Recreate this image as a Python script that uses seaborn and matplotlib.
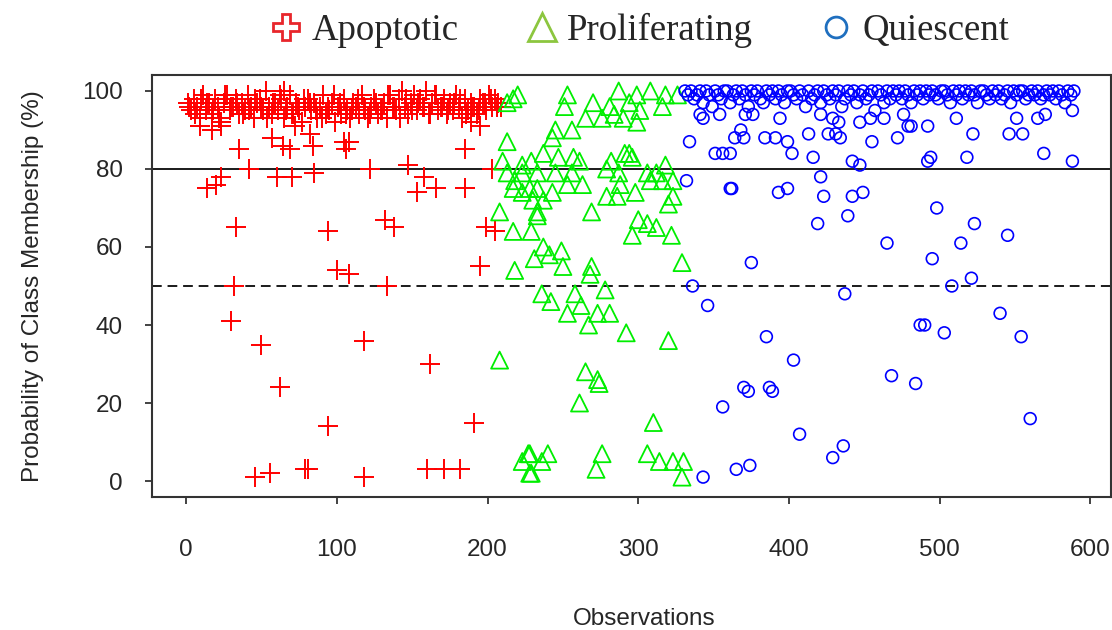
import matplotlib
matplotlib.use("Agg")
import matplotlib.pyplot as plt
from matplotlib.markers import MarkerStyle
from matplotlib.lines import Line2D
import seaborn as sns
import pandas as pd

# ---------------- data ----------------
class_names = ["Apoptotic", "Proliferating", "Quiescent"]
x_ticks = [0, 100, 200, 300, 400, 500, 600]
y_ticks = [0, 20, 40, 60, 80, 100]
solid_ref = 80
dashed_ref = 50

apo_band_x = [1,3,5,7,9,11,13,15,17,19,21,23,25,27,29,31,33,35,37,39,
              41,43,45,47,49,51,53,55,57,59,61,63,65,67,69,71,73,75,77,79,
              81,83,85,87,89,91,93,95,97,99,101,103,105,107,109,111,113,115,117,119,
              121,123,125,127,129,131,133,135,137,139,141,143,145,147,149,151,153,155,157,159,
              161,163,165,167,169,171,173,175,177,179,181,183,185,187,189,191,193,195,197,199,
              201,203,205,207,209]
apo_band_y = [97,95,98,96,93,99,95,97,94,98,
              96,92,97,99,95,96,98,94,97,95,
              99,96,93,97,98,95,100,96,94,97,
              95,98,93,96,99,94,97,95,92,96,
              98,95,97,93,96,99,94,95,97,92,
              96,94,98,95,93,97,96,94,99,95,
              93,96,98,94,95,97,93,99,96,95,
              98,100,96,94,97,99,95,98,96,100,
              94,97,99,95,96,98,94,97,95,99,
              96,93,98,95,97,96,94,98,97,95,
              99,96,98,97,96]
apo_band2_x = [2,6,10,14,18,22,26,30,34,38,42,46,50,54,58,62,66,70,74,78,
               82,86,90,94,98,102,106,110,114,118,122,126,130,134,138,142,146,150,154,158,
               162,166,170,174,178,182,186,190,194,198,202,206]
apo_band2_y = [96,94,98,97,95,93,99,96,97,94,
               95,98,96,93,97,99,95,94,96,98,
               97,95,93,96,99,97,94,95,98,96,
               94,97,95,99,96,93,98,95,97,96,
               94,99,96,95,97,98,94,96,95,97,
               98,96]
apo_out_x = [14,20,23,33,94,100,108,32,30,50,62,94,46,56,79,81,118,162,191,118,
             160,171,182,133,132,138,199,205,195,108,106,122,147,158,166,153,185,185,203,195,
             35,42,57,64,69,60,70,85,84,82,105,9,17,23,72,65,189]
apo_out_y = [75,76,78,65,64,54,53,50,41,35,24,14,1,2,3,3,36,30,15,1,
             3,3,3,50,67,65,65,64,55,87,85,80,81,78,75,74,75,85,80,91,
             85,80,88,86,85,78,78,79,86,89,87,91,90,91,91,100,92]

pro_x = [213,217,220,213,210,223,229,213,218,223,217,223,228,230,208,217,229,233,231,218,208,227,223,228,
         253,251,270,287,294,299,308,318,326,316,301,284,281,276,265,290,299,245,256,243,237,247,257,261,
         282,291,294,296,318,233,245,256,279,287,306,312,316,308,323,233,243,253,263,288,279,286,298,237,
         320,269,323,233,300,306,312,296,322,237,249,241,250,329,269,268,
         236,242,258,253,262,278,273,281,267,292,320,265,273,274,261,310,228,240,236,229,276,272,306,314,
         323,330,329]
pro_y = [97,98,99,87,82,81,82,79,77,79,75,74,75,72,69,64,64,69,57,54,31,7,5,2,
         99,96,97,100,97,99,100,99,99,96,95,94,96,93,93,93,92,90,90,88,84,83,83,82,
         82,84,84,83,81,79,79,79,80,79,79,79,77,77,77,75,74,76,76,76,73,73,74,72,
         71,69,73,68,67,66,65,63,63,60,59,58,55,56,55,53,
         48,46,48,43,45,49,43,43,40,38,36,28,26,25,20,15,7,7,5,2,7,3,7,5,
         5,5,1]

qui_band_x = [331,333,335,337,339,341,343,345,347,349,
              351,353,355,357,359,361,363,365,367,369,
              371,373,375,377,379,381,383,385,387,389,
              391,393,395,397,399,401,403,405,407,409,
              411,413,415,417,419,421,423,425,427,429,
              431,433,435,437,439,441,443,445,447,449,
              451,453,455,457,459,461,463,465,467,469,
              471,473,475,477,479,481,483,485,487,489,
              491,493,495,497,499,501,503,505,507,509,
              511,513,515,517,519,521,523,525,527,529,
              531,533,535,537,539,541,543,545,547,549,
              551,553,555,557,559,561,563,565,567,569,
              571,573,575,577,579,581,583,585,587,589]
qui_band_y = [100,99,100,98,99,100,97,100,99,96,
              100,99,98,100,100,97,99,100,98,100,
              99,96,100,99,100,98,97,100,99,100,
              98,100,99,97,100,100,99,98,100,99,
              96,100,98,99,100,97,100,99,98,100,
              99,100,96,98,100,99,100,97,99,100,
              98,99,100,95,100,99,97,100,98,100,
              99,100,98,100,99,97,100,99,100,98,
              100,99,100,99,98,100,100,99,97,100,
              99,100,98,100,99,100,99,97,100,100,
              99,98,100,99,100,98,99,100,97,100,
              99,100,100,98,99,100,99,100,98,99,
              100,99,100,98,100,99,97,100,99,100]
qui_out_x = [334,332,351,356,361,336,346,356,343,
             361,364,368,370,362,384,391,399,402,413,416,393,399,375,421,423,419,439,442,449,442,
             447,465,426,431,434,429,433,421,455,447,454,463,472,479,476,394,371,376,341,343,354,
             437,385,403,370,373,387,389,407,468,484,365,374,429,436,487,
             492,481,522,494,492,518,546,555,551,570,565,569,588,588,511,498,523,514,545,495,
             521,508,490,503,540,554,560]
qui_out_y = [87,77,84,84,75,50,45,19,1,
             84,88,90,88,75,88,88,87,84,89,83,74,75,56,78,73,66,68,73,74,82,
             81,61,89,89,88,93,92,94,87,92,93,93,88,91,94,93,94,94,94,93,94,
             48,37,31,24,23,24,23,12,27,25,3,4,6,9,40,
             91,91,89,83,82,83,89,89,93,94,93,84,95,82,93,70,66,61,63,57,
             52,50,40,38,43,37,16]

apo = pd.DataFrame({"obs": apo_band_x + apo_band2_x + apo_out_x,
                    "prob": apo_band_y + apo_band2_y + apo_out_y})
pro = pd.DataFrame({"obs": pro_x, "prob": pro_y})
qui = pd.DataFrame({"obs": qui_band_x + qui_out_x, "prob": qui_band_y + qui_out_y})

# ---------------- style ----------------
sns.set_style("ticks")
plt.rcParams["font.family"] = ["Liberation Sans", "DejaVu Sans"]

fig = plt.figure(figsize=(11.12, 6.30), dpi=100)
ax = fig.add_axes([152/1112, 133/630, 959/1112, 422/630])

sns.scatterplot(data=apo, x="obs", y="prob", marker="+", s=200,
                color="#FF0000", linewidth=1.4, ax=ax, zorder=3)
sns.scatterplot(data=pro, x="obs", y="prob", marker=MarkerStyle("^", fillstyle="none"),
                s=150, color="#00EE00", linewidth=1.3, ax=ax, zorder=3)
sns.scatterplot(data=qui, x="obs", y="prob", marker=MarkerStyle("o", fillstyle="none"),
                s=72, color="#0000FF", linewidth=1.2, ax=ax, zorder=3)

ax.axhline(solid_ref, color="#1a1a1a", lw=1.4, zorder=2)
ax.axhline(dashed_ref, color="#1a1a1a", lw=1.4, ls=(0, (5, 3)), zorder=2)

ax.set_xlim(-22.6, 613.6)
ax.set_ylim(-4.1, 104.1)
ax.set_xticks(x_ticks)
ax.set_yticks(y_ticks)
ax.tick_params(axis="both", labelsize=17.5, length=5, width=1.2, color="#222222")
ax.tick_params(axis="x", pad=25)
ax.tick_params(axis="y", pad=16)
for sp in ax.spines.values():
    sp.set_visible(True)
    sp.set_linewidth(1.5)
    sp.set_color("#333333")

ax.set_xlabel("Observations", fontsize=17.5)
ax.set_ylabel("Probability of Class Membership (%)", fontsize=17.5)
ax.xaxis.set_label_coords(0.513, -0.262)
ax.yaxis.set_label_coords(-0.113, 0.5)

handles = [
    Line2D([], [], ls="none", marker="P", markersize=19, markerfacecolor="white",
           markeredgecolor="#E8262B", markeredgewidth=2),
    Line2D([], [], ls="none", marker="^", markersize=20, markerfacecolor="white",
           markeredgecolor="#8CC63F", markeredgewidth=2),
    Line2D([], [], ls="none", marker="o", markersize=15, markerfacecolor="white",
           markeredgecolor="#1F6FBF", markeredgewidth=2),
]
fig.legend(handles, class_names, loc="center", bbox_to_anchor=(0.574, 0.952),
           ncol=3, frameon=False, handlelength=1.0, handletextpad=0.2,
           columnspacing=1.75, borderpad=0,
           prop={"family": "Liberation Serif", "size": 26.5})

fig.savefig("out.png", dpi=100)
